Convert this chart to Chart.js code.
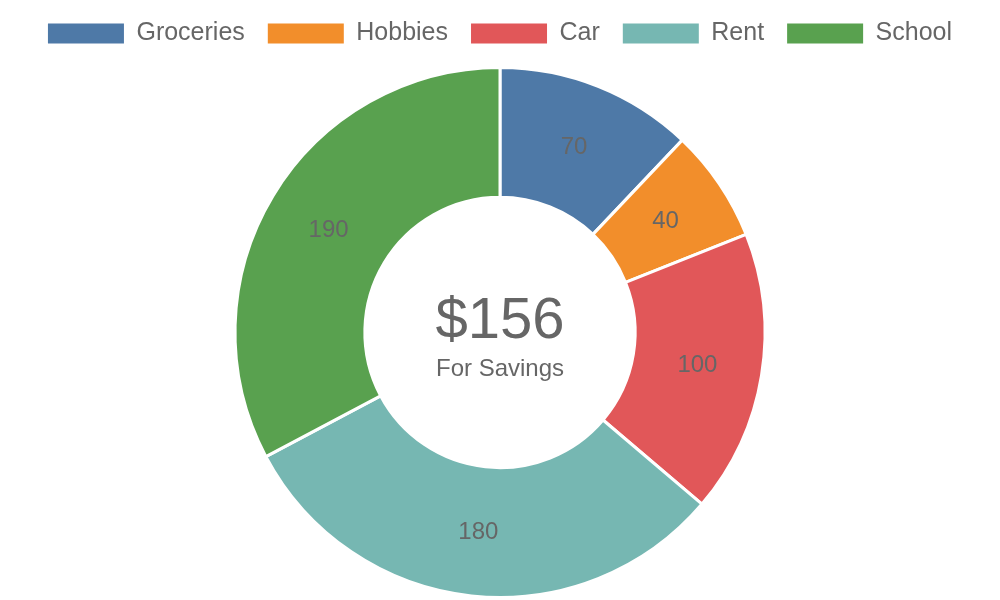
<!DOCTYPE html>
<html>
<head>
<meta charset="utf-8">
<script src="https://cdn.jsdelivr.net/npm/chart.js@4"></script>
<style>
html,body{margin:0;padding:0;background:#fff;}
#wrap{width:1000px;height:600px;position:relative;}
</style>
</head>
<body>
<div id="wrap"><canvas id="c" width="1000" height="600"></canvas></div>
<script>
const categories = ["Groceries", "Hobbies", "Car", "Rent", "School"];
const values = [70, 40, 100, 180, 190];
const colors = ["#4e79a7", "#f28e2b", "#e15759", "#76b7b2", "#59a14f"];
const centerValue = "$156";
const centerLabel = "For Savings";

const FONT = "'Liberation Sans', Arial, sans-serif";

const labelPlugin = {
  id: 'sliceLabels',
  afterDatasetsDraw(chart) {
    const ctx = chart.ctx;
    const meta = chart.getDatasetMeta(0);
    ctx.save();
    ctx.font = "24px " + FONT;
    ctx.fillStyle = "#666";
    ctx.textAlign = "center";
    ctx.textBaseline = "middle";
    meta.data.forEach((arc, i) => {
      const p = arc.tooltipPosition();
      ctx.fillText(String(values[i]), p.x, p.y + 1);
    });
    const cx = meta.data[0].x;
    const cy = meta.data[0].y;
    ctx.font = "58px " + FONT;
    ctx.fillText(centerValue, cx, cy - 11);
    ctx.font = "24px " + FONT;
    ctx.fillText(centerLabel, cx, cy + 37);
    ctx.restore();
  }
};

const legendSpace = {
  id: 'legendSpace',
  beforeInit(chart) {
    const lg = chart.legend;
    const origFit = lg.fit;
    lg.fit = function () {
      origFit.call(this);
      this.height += 8;
    };
    const origDraw = lg.draw;
    lg.draw = function (area) {
      const ctx = this.ctx;
      ctx.save();
      ctx.translate(0, -2);
      origDraw.call(this, area);
      ctx.restore();
    };
  }
};

new Chart(document.getElementById('c'), {
  type: 'doughnut',
  data: {
    labels: categories,
    datasets: [{
      data: values,
      backgroundColor: colors,
      borderColor: '#fff',
      borderWidth: 3
    }]
  },
  options: {
    responsive: false,
    animation: false,
    cutout: '51%',
    layout: { padding: { top: 0, bottom: 1 } },
    plugins: {
      legend: {
        position: 'top',
        labels: {
          boxWidth: 76,
          boxHeight: 20,
          padding: 23,
          color: '#666',
          font: { family: FONT, size: 25 },
          generateLabels(chart) {
            return categories.map((c, i) => ({
              text: c,
              fillStyle: colors[i],
              strokeStyle: colors[i],
              lineWidth: 0,
              fontColor: '#666',
              hidden: false,
              index: i
            }));
          }
        }
      },
      tooltip: { enabled: false }
    }
  },
  plugins: [legendSpace, labelPlugin]
});
</script>
</body>
</html>
